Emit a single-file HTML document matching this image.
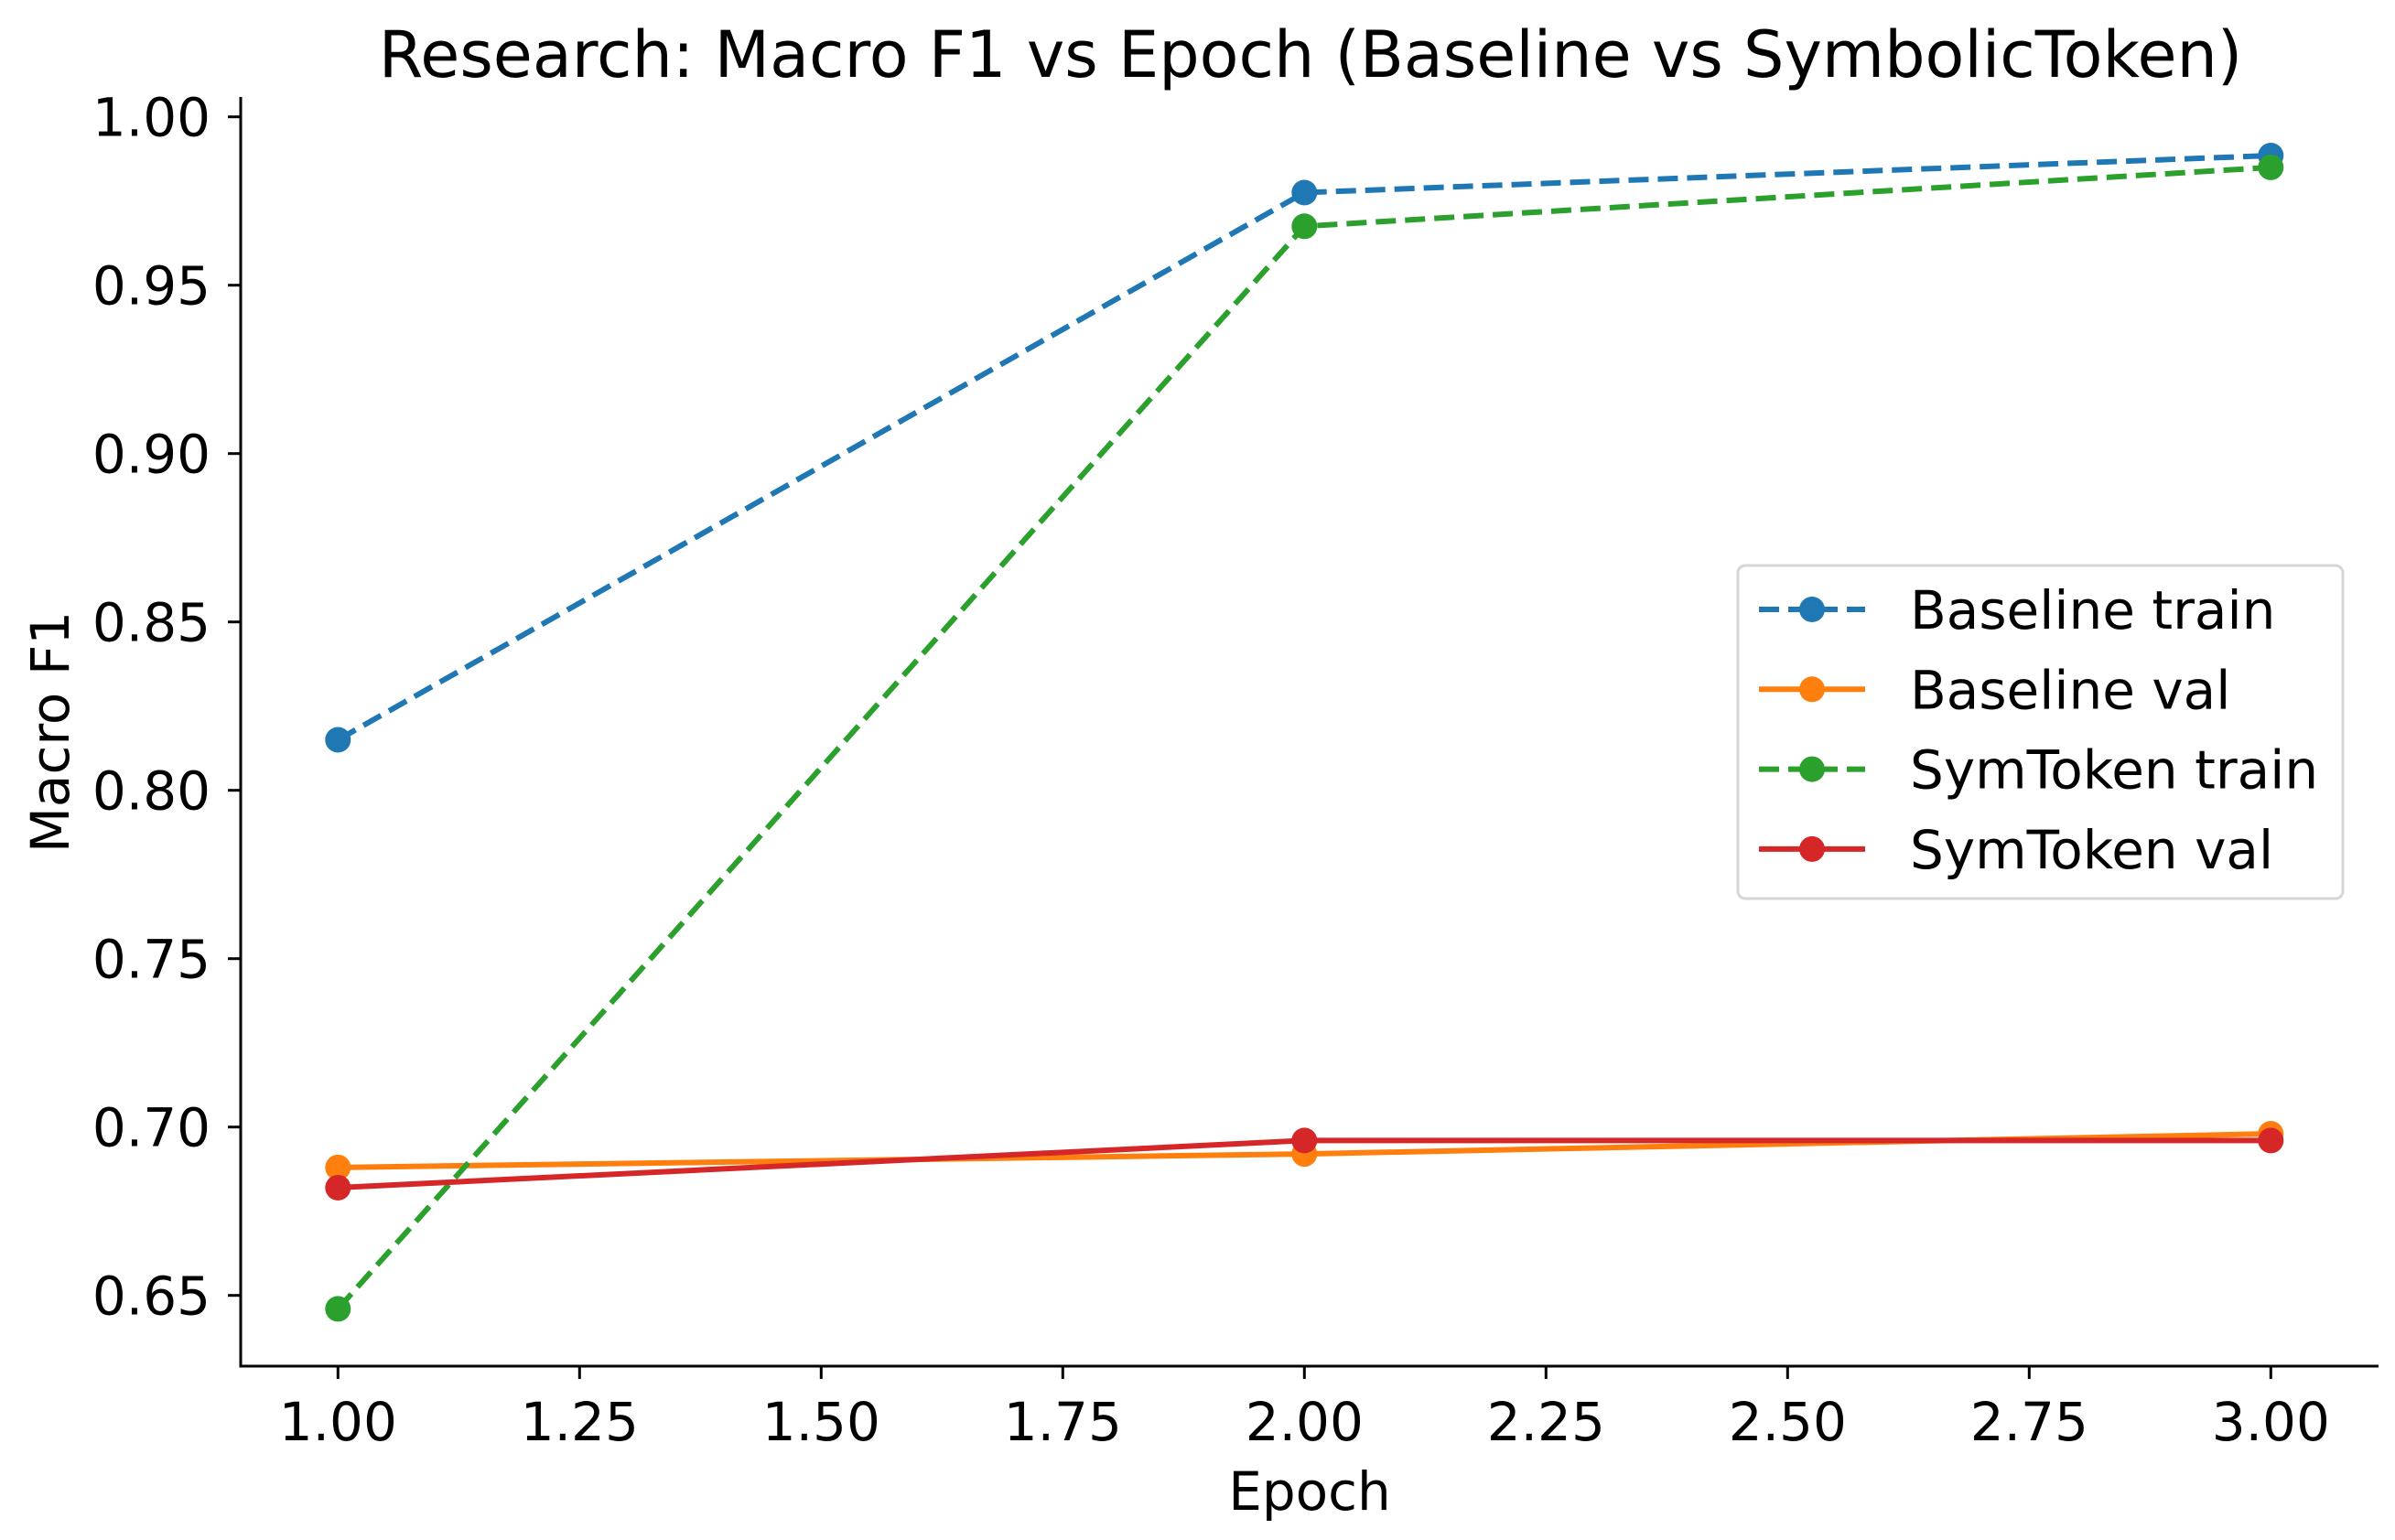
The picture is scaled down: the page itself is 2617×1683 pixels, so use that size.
<!DOCTYPE html>
<html><head><meta charset="utf-8"><style>
body{margin:0;background:#fff}
svg{display:block;font-family:"DejaVu Sans","Liberation Sans",sans-serif}
</style></head><body>
<svg id="chart" width="2617" height="1683" viewBox="0 0 2617 1683">
<text x="1432" y="84" font-size="70" text-anchor="middle">Research: Macro F1 vs Epoch (Baseline vs SymbolicToken)</text>
<g id="axes"></g>
<g id="series"></g>
<g id="legend"></g>
</svg>
<script>
const epochs = [1, 2, 3];
const baselineTrain = [0.815, 0.9775, 0.9885];
const baselineVal = [0.688, 0.692, 0.698];
const symTrain = [0.646, 0.9675, 0.985];
const symVal = [0.682, 0.696, 0.696];
const xTicks = [1.00, 1.25, 1.50, 1.75, 2.00, 2.25, 2.50, 2.75, 3.00];
const yTicks = [0.65, 0.70, 0.75, 0.80, 0.85, 0.90, 0.95, 1.00];
const seriesNames = ["Baseline train", "Baseline val", "SymToken train", "SymToken val"];

const NS = "http://www.w3.org/2000/svg";
const L = 263, R = 2599, T = 106, B = 1493;
function xs(v){ return 369.3 + (v - 1) * 1056; }
function ys(v){ return 127.7 + (1.0 - v) * 3680; }
function mk(tag, attrs, parent){ const e = document.createElementNS(NS, tag); for (const k in attrs) e.setAttribute(k, attrs[k]); parent.appendChild(e); return e; }

const axes = document.getElementById('axes');
const yAxis = mk('line', {x1:L, y1:T, x2:L, y2:B+1.5, stroke:'#000', 'stroke-width':3}, axes);


const xAxis = mk('line', {x1:L-1.5, y1:B, x2:R, y2:B, stroke:'#000', 'stroke-width':3}, axes);



xTicks.forEach(t => {
  const x = xs(t);
  const tk = mk('line', {x1:x, y1:B, x2:x, y2:B+14, stroke:'#000', 'stroke-width':3}, axes);
  
  
  const lb = mk('text', {x:x, y:1574, 'font-size':58, 'text-anchor':'middle'}, axes);
  lb.textContent = t.toFixed(2);
  
  
});
yTicks.forEach(t => {
  const y = ys(t);
  const tk = mk('line', {x1:L-14, y1:y, x2:L, y2:y, stroke:'#000', 'stroke-width':3}, axes);
  
  
  const lb = mk('text', {x:230, y:y+21, 'font-size':58, 'text-anchor':'end'}, axes);
  lb.textContent = t.toFixed(2);
  
  
});
const xl = mk('text', {x:1431, y:1650, 'font-size':58, 'text-anchor':'middle'}, axes);
xl.textContent = 'Epoch';


const yl = mk('text', {x:0, y:0, 'font-size':58, 'text-anchor':'middle', transform:'translate(75,800) rotate(-90)'}, axes);
yl.textContent = 'Macro F1';



const seriesData = [baselineTrain, baselineVal, symTrain, symVal];
const colors = ['#1f77b4', '#ff7f0e', '#2ca02c', '#d62728'];
const dashed = [true, false, true, false];
const sg = document.getElementById('series');
seriesData.forEach((vals, i) => {
  const g = mk('g', {}, sg);
  
  
  const pts = vals.map((v, j) => xs(epochs[j]) + ',' + ys(v)).join(' ');
  const pl = mk('polyline', {points:pts, fill:'none', stroke:colors[i], 'stroke-width':6, 'stroke-dasharray': dashed[i] ? '22,10' : 'none'}, g);
  
  
  vals.forEach((v, j) => {
    const c = mk('circle', {cx:xs(epochs[j]), cy:ys(v), r:14, fill:colors[i]}, g);
    
    
  });
});

const lg = document.getElementById('legend');
mk('rect', {x:1899, y:618, width:661, height:364, rx:8, fill:'#fff', 'fill-opacity':0.8, stroke:'#d6d6d6', 'stroke-width':3}, lg);
seriesNames.forEach((n, i) => {
  const y = 666 + i * 87.3;
  const e = mk('g', {}, lg);
  
  
  mk('line', {x1:1922, y1:y, x2:2038, y2:y, stroke:colors[i], 'stroke-width':6, 'stroke-dasharray': dashed[i] ? '22,10' : 'none'}, e);
  mk('circle', {cx:1980, cy:y, r:14, fill:colors[i]}, e);
  const t = mk('text', {x:2087, y:y+21, 'font-size':58}, e);
  t.textContent = n;
});
</script>
</body></html>
